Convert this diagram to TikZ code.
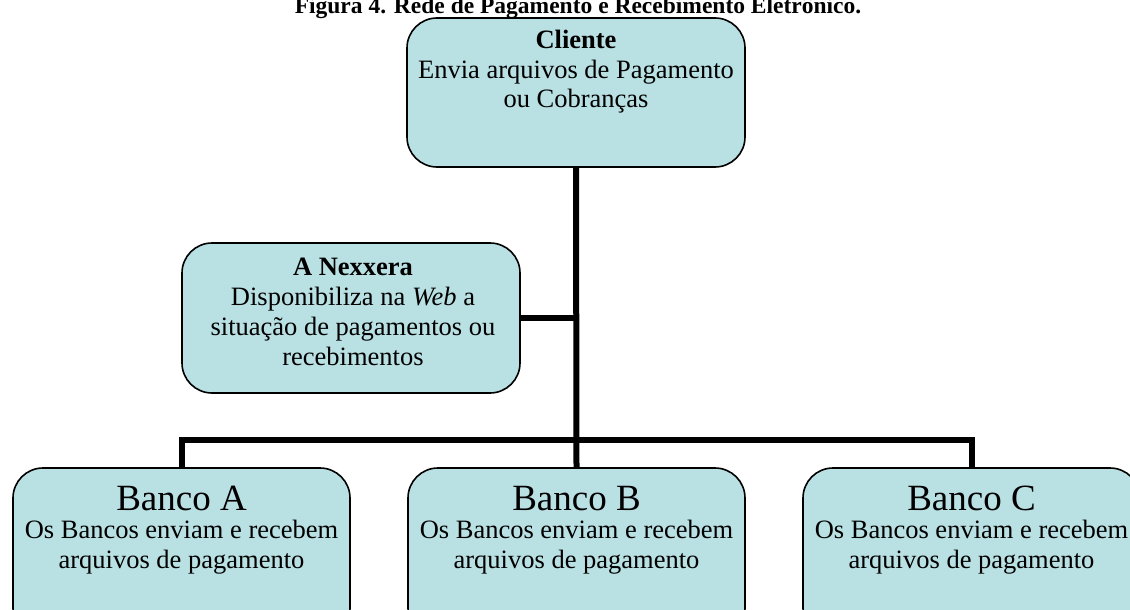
\documentclass[tikz,border=0pt]{standalone}
\usepackage{fontspec}
\setmainfont{Liberation Serif}
\definecolor{boxfill}{RGB}{185,224,227}
\tikzset{
  card/.style={draw=black, line width=1.6pt, fill=boxfill, rounded corners=30pt, inner sep=0pt},
  txt/.style={anchor=base, inner sep=0pt, font=\fontsize{26.5}{30}\selectfont},
  big/.style={anchor=base, inner sep=0pt, font=\fontsize{37}{40}\selectfont},
  ttl/.style={anchor=base, inner sep=0pt, font=\fontsize{23.5}{26}\selectfont\bfseries},
  link/.style={line width=6pt}
}
\begin{document}
\begin{tikzpicture}[x=1pt,y=-1pt]
\useasboundingbox (0,0) rectangle (1130,610);
\clip (0,0) rectangle (1130,610);
\node[card, minimum width=338pt, minimum height=149pt] (cli) at (576,92.5) {};
\node[card, minimum width=338pt, minimum height=150pt] (nex) at (351,318) {};
\node[card, minimum width=337pt, minimum height=170pt] (ba) at (181.5,553) {};
\node[card, minimum width=337pt, minimum height=170pt] (bb) at (576.5,553) {};
\node[card, minimum width=337pt, minimum height=170pt] (bc) at (971.5,553) {};
\coordinate (j) at (cli.south |- nex.east);
\draw[link] (cli.south) -- (bb.north);
\draw[link] (nex.east) -- (j);
\draw[link] (ba.north) -- ++(0,-27) coordinate (bl) -| (bc.north);
% texts
\node[ttl] (title) at (578,14) {Figura 4. Rede de Pagamento e Recebimento Eletrônico.};
\node[txt] (c1) at (576,49) {\bfseries Cliente};
\node[txt] (c2) at (576,78) {Envia arquivos de Pagamento};
\node[txt] (c3) at (576,107) {ou Cobranças};
\node[txt] (n1) at (353,275) {\bfseries A Nexxera};
\node[txt] (n2) at (353,305) {Disponibiliza na \textit{Web} a};
\node[txt] (n3) at (353,335) {situação de pagamentos ou};
\node[txt] (n4) at (353,365) {recebimentos};
\foreach \b/\l/\x in {ba/A/181.5, bb/B/576.5, bc/C/971.5}{
  \node[big] (\b t) at (\x,510) {Banco \l};
  \node[txt] (\b d1) at (\x,538) {Os Bancos enviam e recebem};
  \node[txt] (\b d2) at (\x,568) {arquivos de pagamento};
}
\end{tikzpicture}
\end{document}
